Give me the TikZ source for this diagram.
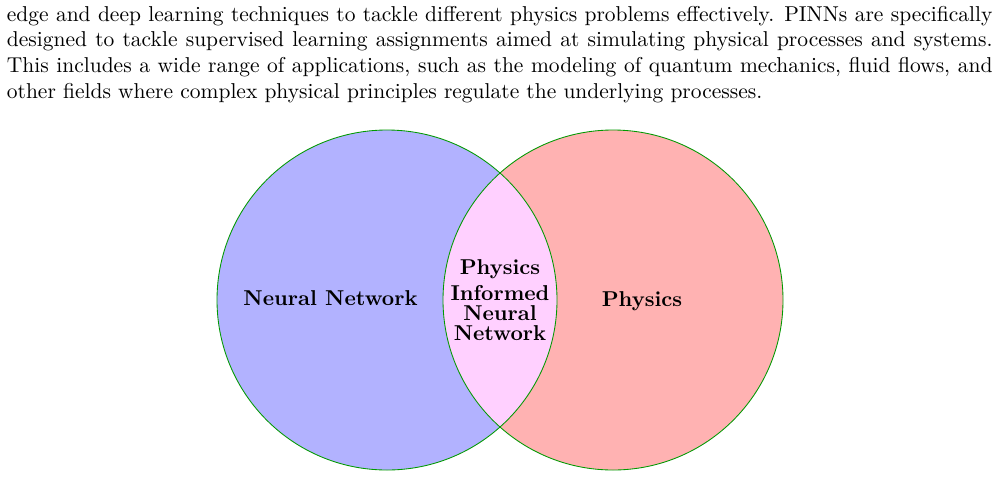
\documentclass[tikz,border=0pt]{standalone}
\definecolor{lens}{RGB}{255,208,255}
\begin{document}
\begin{tikzpicture}[x=0.46512pt,y=0.46512pt,
  set/.style={draw=green!60!black, line width=0.4pt},
  lbl/.style={font=\bfseries, inner sep=0pt}]
\useasboundingbox (0,0) rectangle (1001,478);
\coordinate (cl) at (387,178);
\coordinate (cr) at (613,178);
\fill[blue!30] (cl) circle (170);
\fill[red!30] (cr) circle (170);
\begin{scope}
  \clip (cl) circle (170);
  \fill[lens] (cr) circle (170);
\end{scope}
\draw[set] (cl) circle (170);
\draw[set] (cr) circle (170);
\node[anchor=north west, inner sep=0pt, text width=458.4pt, align=justify] (para) at (6.5,472.4)
{edge and deep learning techniques to tackle different physics problems effectively. PINNs are specifically designed to tackle supervised learning assignments aimed at simulating physical processes and systems. This includes a wide range of applications, such as the modeling of quantum mechanics, fluid flows, and other fields where complex physical principles regulate the underlying processes.};
\node[lbl, anchor=base] (nn) at (330.5,172.3) {Neural Network};
\node[lbl, anchor=base] (ph) at (642,172) {Physics};
\node[lbl, anchor=north, align=center] (pinn) at (500,219) {Physics\\Informed\\[-2.4pt]Neural\\[-3pt]Network};
\end{tikzpicture}
\end{document}
